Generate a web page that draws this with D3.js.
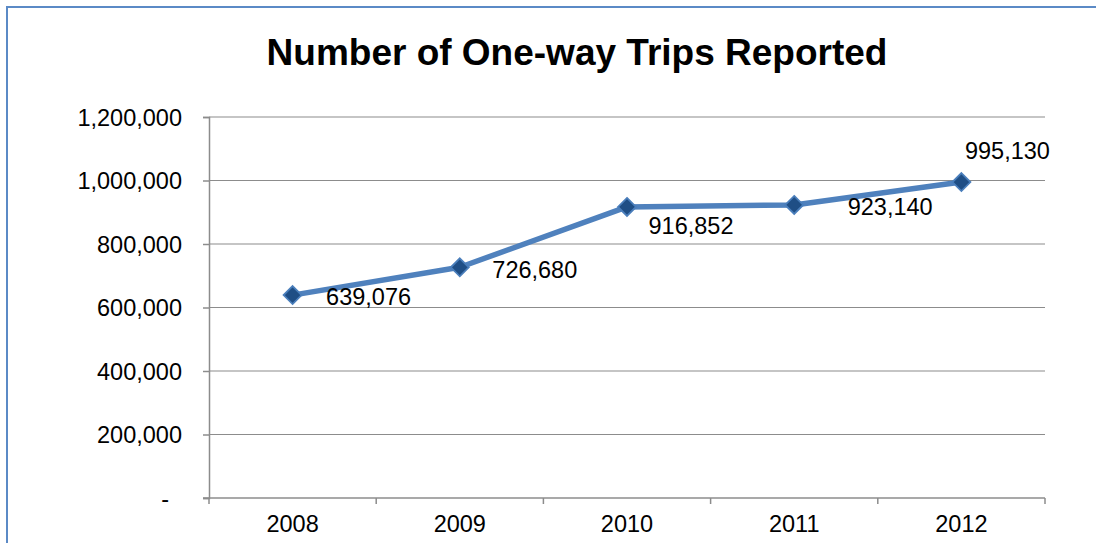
<!DOCTYPE html>
<html>
<head>
<meta charset="utf-8">
<script src="https://cdn.jsdelivr.net/npm/d3@7"></script>
<style>
  body { margin: 0; background: #fff; }
  svg text { font-family: "Liberation Sans", Arial, sans-serif; fill: #000; }
</style>
</head>
<body>
<div id="chart"></div>
<script>
// chart data
const years = ["2008", "2009", "2010", "2011", "2012"]
const trips = [639076, 726680, 916852, 923140, 995130]
const yTicks = [0, 200000, 400000, 600000, 800000, 1000000, 1200000]
const title = "Number of One-way Trips Reported"

// label placement relative to each point (dx, dy of text center)
const labelOffsets = [[76, 1], [75, 2], [64, 19], [96, 2], [46, -32]]

const W = 1096, H = 543
const margin = {top: 117, right: 51, bottom: 45, left: 209}
const width = W - margin.left - margin.right
const height = H - margin.top - margin.bottom
const fontSize = "23.5px"

const svg = d3.select("#chart").append("svg")
  .attr("width", W)
  .attr("height", H)

// outer chart border (right/bottom fall outside the picture)
svg.append("rect")
  .attr("x", 7).attr("y", 7)
  .attr("width", W + 20).attr("height", H + 20)
  .attr("fill", "none")
  .attr("stroke", "#5b8ac6")
  .attr("stroke-width", 2)

svg.append("text")
  .attr("x", 577).attr("y", 65)
  .attr("text-anchor", "middle")
  .style("font-size", "37px")
  .style("font-weight", "bold")
  .text(title)

const g = svg.append("g")
  .attr("transform", "translate(" + margin.left + "," + margin.top + ")")

const x = d3.scaleBand().domain(years).range([0, width])
const y = d3.scaleLinear().domain([0, 1200000]).range([height, 0])

const fmt = d => d === 0 ? "-" : d3.format(",")(d)

// gridlines
g.append("g")
  .selectAll("line")
  .data(yTicks.filter(d => d > 0))
  .join("line")
  .attr("x1", 0).attr("x2", width)
  .attr("y1", d => y(d)).attr("y2", d => y(d))
  .attr("stroke", "#8c8c8c")
  .attr("stroke-width", 1.2)

// Y axis
const yAxis = g.append("g")
  .call(d3.axisLeft(y).tickValues(yTicks).tickFormat(fmt).tickSizeOuter(0).tickSize(6).tickPadding(21))
yAxis.select(".domain").attr("stroke", "#8c8c8c").attr("stroke-width", 1.5)
yAxis.selectAll(".tick line").attr("stroke", "#8c8c8c").attr("stroke-width", 1.5)
yAxis.selectAll(".tick text").style("font-size", fontSize).attr("dy", "0.36em")
  .attr("dx", d => d === 0 ? -13 : 0) // accounting-style dash sits further left

// X axis
const xAxis = g.append("g")
  .attr("transform", "translate(0," + height + ")")
  .call(d3.axisBottom(x).tickSize(0).tickSizeOuter(0).tickPadding(17))
xAxis.select(".domain").attr("stroke", "#8c8c8c").attr("stroke-width", 1.5)
  .attr("d", "M-6,0H" + width)
xAxis.selectAll(".tick text").style("font-size", fontSize)
// category boundary ticks
g.append("g")
  .selectAll("line")
  .data(years.concat(["end"]))
  .join("line")
  .attr("x1", (d, i) => i * x.step()).attr("x2", (d, i) => i * x.step())
  .attr("y1", height).attr("y2", height + 6)
  .attr("stroke", "#8c8c8c")
  .attr("stroke-width", 1.5)

const cx = d => x(d) + x.bandwidth() / 2

// the line
g.append("path")
  .datum(trips)
  .attr("fill", "none")
  .attr("stroke", "#4f81bd")
  .attr("stroke-width", 5.5)
  .attr("stroke-linejoin", "round")
  .attr("d", d3.line()
    .x((d, i) => cx(years[i]))
    .y(d => y(d)))

// diamond markers
g.append("g")
  .selectAll("path")
  .data(trips)
  .join("path")
  .attr("transform", (d, i) => "translate(" + cx(years[i]) + "," + y(d) + ")")
  .attr("d", "M0,-9L9,0L0,9L-9,0Z")
  .attr("fill", "#1f4e85")
  .attr("stroke", "#4a7ebb")
  .attr("stroke-width", 1.8)

// data labels
g.append("g")
  .selectAll("text")
  .data(trips)
  .join("text")
  .attr("x", (d, i) => cx(years[i]) + labelOffsets[i][0])
  .attr("y", (d, i) => y(d) + labelOffsets[i][1])
  .attr("dy", "0.36em")
  .attr("text-anchor", "middle")
  .style("font-size", fontSize)
  .text(d => d3.format(",")(d))
</script>
</body>
</html>
